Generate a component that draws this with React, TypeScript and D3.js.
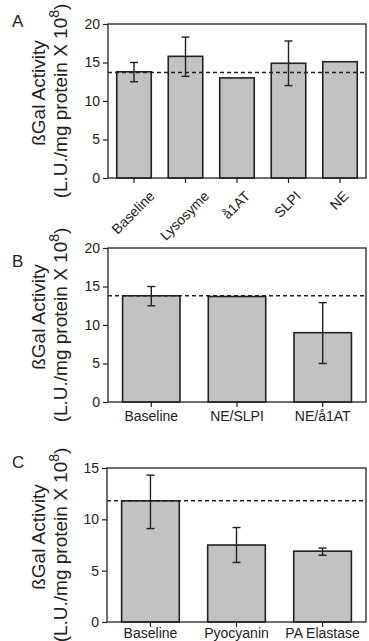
import { useEffect, useRef } from 'react';
import * as d3 from 'd3';

// Panel A
const aCategories = ['Baseline', 'Lysosyme', 'å1AT', 'SLPI', 'NE'];
const aValues = [13.8, 15.8, 13.0, 14.9, 15.1];
const aLow = [12.5, 13.2, null, 12.0, null];
const aHigh = [15.0, 18.3, null, 17.8, null];
const aRef = 13.7;
const aTicks = [0, 5, 10, 15, 20];

// Panel B
const bCategories = ['Baseline', 'NE/SLPI', 'NE/å1AT'];
const bValues = [13.8, 13.7, 9.0];
const bLow = [12.5, null, 5.0];
const bHigh = [15.0, null, 12.9];
const bRef = 13.8;
const bTicks = [0, 5, 10, 15, 20];

// Panel C
const cCategories = ['Baseline', 'Pyocyanin', 'PA Elastase'];
const cValues = [11.8, 7.5, 6.9];
const cLow = [9.1, 5.8, 6.5];
const cHigh = [14.3, 9.2, 7.2];
const cRef = 11.8;
const cTicks = [0, 5, 10, 15];

const FONT = '"Liberation Sans", Arial, Helvetica, sans-serif';

interface PanelProps {
  letter: string;
  letterY: number;
  categories: string[];
  values: number[];
  low: (number | null)[];
  high: (number | null)[];
  refValue: number;
  ticks: number[];
  top: number;
  bottom: number;
  left: number;
  labelY?: number;
  rotateLabels?: boolean;
}

function Panel(p: PanelProps) {
  const gRef = useRef<SVGGElement>(null);

  useEffect(() => {
    if (!gRef.current) return;
    const g = d3.select(gRef.current);
    g.selectAll('*').remove();

    const right = 366;
    const maxTick = p.ticks[p.ticks.length - 1];

    const x = d3.scaleBand<string>()
      .domain(p.categories)
      .range([p.left, right])
      .paddingInner(0.33)
      .paddingOuter(0.17);

    const y = d3.scaleLinear()
      .domain([0, maxTick])
      .range([p.bottom, p.top]);

    // Bars
    g.selectAll('.bar')
      .data(p.values)
      .enter()
      .append('rect')
      .attr('x', (_d, i) => x(p.categories[i])!)
      .attr('y', d => y(d))
      .attr('width', x.bandwidth())
      .attr('height', d => p.bottom - y(d))
      .attr('fill', '#c2c2c2')
      .attr('stroke', '#222')
      .attr('stroke-width', 1.6);

    // Error bars
    p.values.forEach((_v, i) => {
      const lo = p.low[i];
      const hi = p.high[i];
      if (lo == null || hi == null) return;
      const cx = x(p.categories[i])! + x.bandwidth() / 2;
      g.append('line')
        .attr('x1', cx).attr('x2', cx)
        .attr('y1', y(lo)).attr('y2', y(hi))
        .attr('stroke', '#222').attr('stroke-width', 1.4);
      [lo, hi].forEach(v => {
        g.append('line')
          .attr('x1', cx - 4).attr('x2', cx + 4)
          .attr('y1', y(v)).attr('y2', y(v))
          .attr('stroke', '#222').attr('stroke-width', 1.4);
      });
    });

    // Dashed reference line
    g.append('line')
      .attr('x1', p.left).attr('x2', right)
      .attr('y1', y(p.refValue)).attr('y2', y(p.refValue))
      .attr('stroke', '#222')
      .attr('stroke-width', 1.5)
      .attr('stroke-dasharray', '4,3');

    // Frame
    g.append('rect')
      .attr('x', p.left).attr('y', p.top)
      .attr('width', right - p.left)
      .attr('height', p.bottom - p.top)
      .attr('fill', 'none')
      .attr('stroke', '#222')
      .attr('stroke-width', 1.3);

    // Y axis
    const yAxis = g.append('g')
      .attr('transform', `translate(${p.left},0)`)
      .call(d3.axisLeft(y).tickValues(p.ticks).tickSize(5).tickPadding(3).tickFormat(d3.format('d')));
    yAxis.select('.domain').remove();
    yAxis.selectAll('line').attr('stroke', '#222').attr('stroke-width', 1.2);
    yAxis.selectAll('text')
      .attr('fill', '#222')
      .style('font-family', FONT)
      .style('font-size', '14px');

    // X axis ticks
    const xAxis = g.append('g')
      .attr('transform', `translate(0,${p.bottom})`)
      .call(d3.axisBottom(x).tickSize(5).tickPadding(6).tickSizeOuter(0));
    xAxis.select('.domain').remove();
    xAxis.selectAll('line').attr('stroke', '#222').attr('stroke-width', 1.2);
    const xt = xAxis.selectAll<SVGTextElement, string>('text')
      .attr('fill', '#222')
      .style('font-family', FONT)
      .style('font-size', '14px');
    if (p.rotateLabels) {
      // centre each slanted label under its tick, top end on a common line
      xt.attr('text-anchor', 'end')
        .attr('dy', null)
        .attr('y', 0)
        .attr('transform', function () {
          const len = this.getComputedTextLength() || 7 * (this.textContent || '').length;
          return `translate(${0.354 * len + 2.5},19) rotate(-45)`;
        });
    } else {
      xt.attr('dy', null).attr('y', p.labelY ?? 19);
    }

    // Y title
    const midY = (p.top + p.bottom) / 2;
    g.append('text')
      .attr('transform', `translate(45,${midY - 8}) rotate(-90)`)
      .attr('text-anchor', 'middle')
      .attr('fill', '#222')
      .style('font-family', FONT)
      .style('font-size', '19px')
      .text('ßGal Activity');
    const t2 = g.append('text')
      .attr('transform', `translate(67,${midY}) rotate(-90)`)
      .attr('text-anchor', 'middle')
      .attr('fill', '#222')
      .style('font-family', FONT)
      .style('font-size', '19px');
    t2.append('tspan').text('(L.U./mg protein X 10');
    t2.append('tspan').attr('dy', -8).style('font-size', '14px').text('8');
    t2.append('tspan').attr('dy', 8).text(')');

    // Panel letter
    g.append('text')
      .attr('x', 12)
      .attr('y', p.letterY)
      .attr('fill', '#222')
      .style('font-family', FONT)
      .style('font-size', '17px')
      .text(p.letter);
  }, [p]);

  return <g ref={gRef} />;
}

export default function App() {
  return (
    <svg
      width={369}
      height={641}
      viewBox="0 0 369 641"
      style={{ position: 'absolute', left: 0, top: 0, background: '#fff' }}
    >
      <Panel letter="A" letterY={27} categories={aCategories} values={aValues} low={aLow} high={aHigh}
        refValue={aRef} ticks={aTicks} top={24} bottom={178} left={108} rotateLabels />
      <Panel letter="B" letterY={267} categories={bCategories} values={bValues} low={bLow} high={bHigh}
        refValue={bRef} ticks={bTicks} top={248} bottom={402} left={108} />
      <Panel letter="C" letterY={468} categories={cCategories} values={cValues} low={cLow} high={cHigh}
        refValue={cRef} ticks={cTicks} top={468} bottom={622} left={107} labelY={16} />
    </svg>
  );
}
